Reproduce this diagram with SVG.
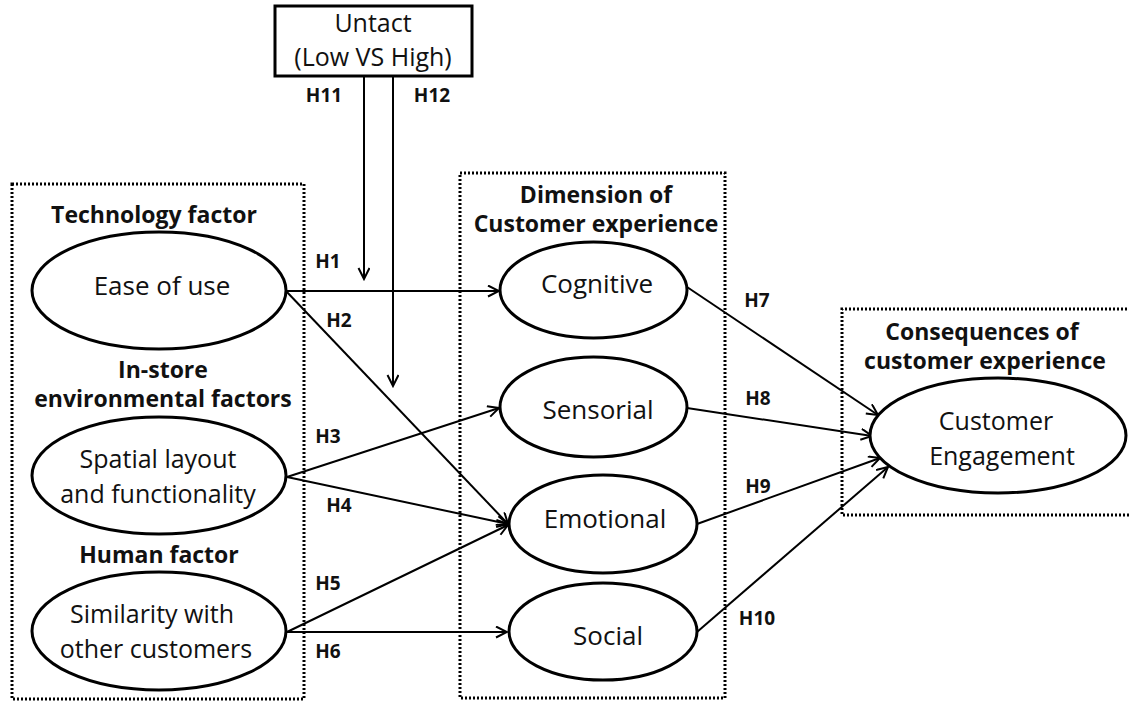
<svg xmlns="http://www.w3.org/2000/svg" width="1129" height="702" viewBox="0 0 1129 702">
<style>
.bg{fill:#fff}
.grp{fill:none;stroke:#000;stroke-width:3;stroke-dasharray:2 2}
.node{fill:#fff;stroke:#000;stroke-width:3}
.t{font-family:"Open Sans","Noto Sans",sans-serif;font-size:26px;fill:#111;text-anchor:middle}
.u{font-size:25px}
.m{font-size:25px}
.b{font-family:"Open Sans","Noto Sans",sans-serif;font-weight:bold;font-size:23px;fill:#111;text-anchor:middle}
.h{font-family:"Open Sans","Noto Sans",sans-serif;font-weight:bold;font-size:19px;fill:#111;text-anchor:middle}
.c{fill:none;stroke:#000;stroke-width:2;marker-end:url(#arr)}
</style>
<defs>
<marker id="arr" markerUnits="userSpaceOnUse" markerWidth="14" markerHeight="14" refX="12" refY="6" orient="auto">
<path d="M1,0.5 L12,6 L1,11.5" fill="none" stroke="#000" stroke-width="2"/>
</marker>
</defs>
<rect class="bg" x="0" y="0" width="1129" height="702"/>

<g id="groups">
<rect class="grp" x="12" y="184" width="292" height="515"/>
<rect class="grp" x="460" y="173" width="265" height="525"/>
<path class="grp" d="M1135,309 H842 V515 H1135"/>
<text class="b" x="154" y="223">Technology factor</text>
<text class="b" x="163" y="378">In-store</text>
<text class="b" x="163" y="407">environmental factors</text>
<text class="b" x="159" y="563">Human factor</text>
<text class="b" x="596" y="203">Dimension of</text>
<text class="b" x="596" y="232">Customer experience</text>
<text class="b" x="982" y="340">Consequences of</text>
<text class="b" x="985" y="369">customer experience</text>
</g>

<g id="connectors">
<line class="c" x1="364" y1="76" x2="364" y2="279"/>
<line class="c" x1="393" y1="76" x2="393" y2="386"/>
<line class="c" x1="286" y1="291" x2="499" y2="291"/>
<line class="c" x1="286" y1="291" x2="508" y2="524"/>
<line class="c" x1="287" y1="477" x2="499" y2="408"/>
<line class="c" x1="287" y1="477" x2="508" y2="524"/>
<line class="c" x1="287" y1="632" x2="508" y2="525"/>
<line class="c" x1="287" y1="632" x2="507" y2="632"/>
<line class="c" x1="687" y1="287" x2="878" y2="415"/>
<line class="c" x1="687" y1="408" x2="872" y2="436"/>
<line class="c" x1="697" y1="524" x2="880" y2="458"/>
<line class="c" x1="697" y1="632" x2="888" y2="467"/>
<text class="h" x="324" y="102">H11</text>
<text class="h" x="432" y="102">H12</text>
<text class="h" x="328" y="268">H1</text>
<text class="h" x="339" y="327">H2</text>
<text class="h" x="328" y="443">H3</text>
<text class="h" x="339" y="512">H4</text>
<text class="h" x="328" y="590">H5</text>
<text class="h" x="328" y="658">H6</text>
<text class="h" x="757" y="307">H7</text>
<text class="h" x="758" y="405">H8</text>
<text class="h" x="758" y="493">H9</text>
<text class="h" x="757" y="625">H10</text>
</g>

<g id="untact">
<rect class="node" x="275" y="6" width="197" height="70" stroke-width="4"/>
<text class="t u" x="373" y="32">Untact</text>
<text class="t u" x="373" y="66">(Low VS High)</text>
</g>

<g id="ease">
<ellipse class="node" cx="159" cy="290.5" rx="127" ry="58.5"/>
<text class="t" x="162" y="295">Ease of use</text>
</g>

<g id="spatial">
<ellipse class="node" cx="159" cy="475.5" rx="127" ry="58.5"/>
<text class="t m" x="158" y="468">Spatial layout</text>
<text class="t m" x="158" y="503">and functionality</text>
</g>

<g id="similarity">
<ellipse class="node" cx="159" cy="631" rx="127" ry="59"/>
<text class="t m" x="152" y="623">Similarity with</text>
<text class="t m" x="156" y="658">other customers</text>
</g>

<g id="cognitive">
<ellipse class="node" cx="593.5" cy="290" rx="93.5" ry="48"/>
<text class="t" x="597" y="293">Cognitive</text>
</g>

<g id="sensorial">
<ellipse class="node" cx="593.5" cy="407" rx="93.5" ry="50"/>
<text class="t" x="598" y="419">Sensorial</text>
</g>

<g id="emotional">
<ellipse class="node" cx="603" cy="524" rx="94" ry="49"/>
<text class="t" x="605" y="528">Emotional</text>
</g>

<g id="social">
<ellipse class="node" cx="603" cy="631.5" rx="94" ry="48.5"/>
<text class="t" x="608" y="645">Social</text>
</g>

<g id="engagement">
<ellipse class="node" cx="998" cy="435.5" rx="128" ry="57.5"/>
<text class="t m" x="996" y="430">Customer</text>
<text class="t m" x="1002" y="465">Engagement</text>
</g>
</svg>
